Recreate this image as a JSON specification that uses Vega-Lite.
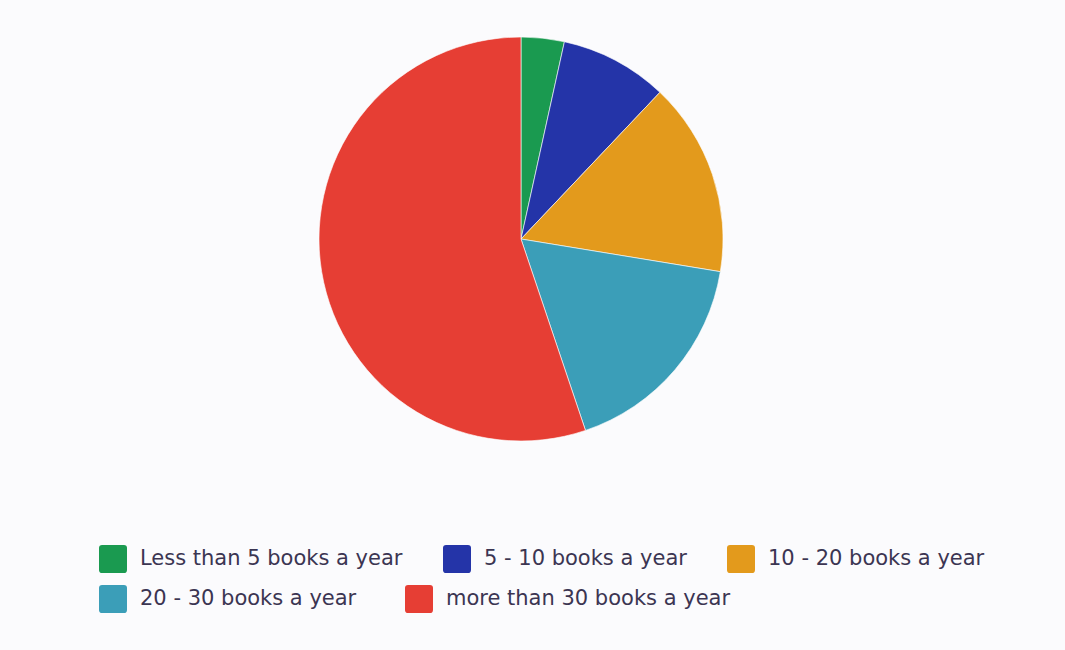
{
  "$schema": "https://vega.github.io/schema/vega-lite/v6.json",
  "width": 1042,
  "height": 478,
  "autosize": {"type": "none"},
  "padding": {"left": 0, "top": 0, "right": 23, "bottom": 172},
  "background": "#fbfbfd",
  "data": {
    "values": [
      {"category": "Less than 5 books a year", "count": 2, "rank": 1},
      {"category": "5 - 10 books a year", "count": 5, "rank": 2},
      {"category": "10 - 20 books a year", "count": 9, "rank": 3},
      {"category": "20 - 30 books a year", "count": 10, "rank": 4},
      {"category": "more than 30 books a year", "count": 32, "rank": 5}
    ]
  },
  "transform": [
    {"stack": "count", "groupby": [], "sort": [{"field": "rank", "order": "ascending"}], "as": ["t0", "t1"]}
  ],
  "layer": [
    {
      "transform": [{"filter": "datum.rank <= 3"}],
      "mark": {"type": "arc", "outerRadius": 202, "stroke": "#ffffff", "strokeWidth": 0.6},
      "encoding": {
        "theta": {"field": "t0", "type": "quantitative", "scale": {"domain": [0, 58]}},
        "theta2": {"field": "t1"},
        "color": {
          "field": "category",
          "type": "nominal",
          "scale": {
            "domain": ["Less than 5 books a year", "5 - 10 books a year", "10 - 20 books a year"],
            "range": ["#1a9a50", "#2434a8", "#e39a1c"]
          },
          "legend": {
            "title": null,
            "orient": "none",
            "legendX": 99,
            "legendY": 545,
            "direction": "horizontal",
            "columns": 3,
            "columnPadding": 40,
            "symbolType": "M -0.78 -1 H 0.78 Q 1 -1 1 -0.78 V 0.78 Q 1 1 0.78 1 H -0.78 Q -1 1 -1 0.78 V -0.78 Q -1 -1 -0.78 -1 Z",
            "symbolSize": 784,
            "symbolStrokeWidth": 0,
            "symbolOpacity": 1,
            "labelFont": "DejaVu Sans",
            "labelFontSize": 21,
            "labelColor": "#3b3552",
            "labelOffset": 13,
            "labelLimit": 400
          }
        }
      }
    },
    {
      "transform": [{"filter": "datum.rank > 3"}],
      "mark": {"type": "arc", "outerRadius": 202, "stroke": "#ffffff", "strokeWidth": 0.6},
      "encoding": {
        "theta": {"field": "t0", "type": "quantitative", "scale": {"domain": [0, 58]}},
        "theta2": {"field": "t1"},
        "color": {
          "field": "category",
          "type": "nominal",
          "scale": {
            "domain": ["20 - 30 books a year", "more than 30 books a year"],
            "range": ["#3b9eb8", "#e63e34"]
          },
          "legend": {
            "title": null,
            "orient": "none",
            "legendX": 99,
            "legendY": 585,
            "direction": "horizontal",
            "columns": 2,
            "columnPadding": 48,
            "symbolType": "M -0.78 -1 H 0.78 Q 1 -1 1 -0.78 V 0.78 Q 1 1 0.78 1 H -0.78 Q -1 1 -1 0.78 V -0.78 Q -1 -1 -0.78 -1 Z",
            "symbolSize": 784,
            "symbolStrokeWidth": 0,
            "symbolOpacity": 1,
            "labelFont": "DejaVu Sans",
            "labelFontSize": 21,
            "labelColor": "#3b3552",
            "labelOffset": 13,
            "labelLimit": 400
          }
        }
      }
    }
  ],
  "resolve": {"scale": {"color": "independent"}},
  "config": {"view": {"stroke": null}}
}
